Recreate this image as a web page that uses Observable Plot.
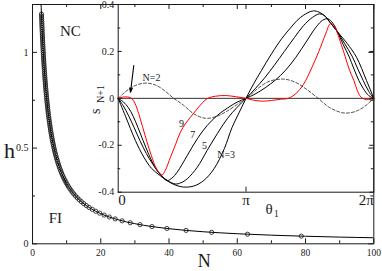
<!DOCTYPE html>
<html><head><meta charset="utf-8">
<script src="https://cdn.jsdelivr.net/npm/d3@7"></script>
<script src="https://cdn.jsdelivr.net/npm/@observablehq/plot@0.6"></script>
<style>
html,body{margin:0;padding:0;background:#fff;}
#chart{position:relative;width:382px;height:271px;overflow:hidden;background:#fff;}
#chart svg{position:absolute;}
</style></head><body><div id="chart"></div>
<script>
// ---------- main chart data: h versus N ----------
const mainXMajor = [0, 20, 40, 60, 80, 100];
const mainXMinor = [10, 30, 50, 70, 90];
const mainYMajor = [0, 0.5, 1];
const mainYMinor = [0.25, 0.75];

const hCircles = [0.04,0.05,0.06,0.07,0.08,0.09,0.10,0.11,0.12,0.13,
  0.14,0.15,0.16,0.17,0.18,0.19,0.20,0.21,0.22,0.23,
  0.24,0.25,0.26,0.27,0.28,0.29,0.30,0.31,0.32,0.33,
  0.34,0.35,0.36,0.37,0.38,0.39,0.40,0.41,0.42,0.43,
  0.44,0.45,0.46,0.47,0.48,0.49,0.50,0.51,0.52,0.53,
  0.54,0.55,0.56,0.57,0.58,0.59,0.60,0.61,0.62,0.63,
  0.64,0.65,0.66,0.67,0.68,0.69,0.70,0.71,0.72,0.73,
  0.74,0.75,0.76,0.77,0.78,0.79,0.80,0.81,0.82,0.83,
  0.84,0.85,0.86,0.87,0.88,0.89,0.90,0.91,0.92,0.93,
  0.94,0.95,0.96,0.97,0.98,0.99,1.00,1.01,1.02,1.03,
  1.04,1.05,1.06,1.07,1.08,1.09,1.10,1.11,1.12,1.13,
  1.14,1.15,1.16,1.17,1.18,1.19,1.20];
const nCircles = [78.75,63.00,52.50,45.00,39.38,35.00,31.50,28.64,26.25,24.23,
  22.50,21.00,19.69,18.53,17.50,16.58,15.75,15.00,14.32,13.70,
  13.13,12.60,12.12,11.67,11.25,10.86,10.50,10.16,9.84,9.55,
  9.26,9.00,8.75,8.51,8.29,8.08,7.88,7.68,7.50,7.33,
  7.16,7.00,6.85,6.70,6.56,6.43,6.30,6.18,6.06,5.94,
  5.83,5.73,5.63,5.53,5.43,5.34,5.25,5.16,5.08,5.00,
  4.92,4.85,4.77,4.70,4.63,4.57,4.50,4.44,4.38,4.32,
  4.26,4.20,4.14,4.09,4.04,3.99,3.94,3.89,3.84,3.80,
  3.75,3.71,3.66,3.62,3.58,3.54,3.50,3.46,3.42,3.39,
  3.35,3.32,3.28,3.25,3.21,3.18,3.15,3.12,3.09,3.06,
  3.03,3.00,2.97,2.94,2.92,2.89,2.86,2.84,2.81,2.79,
  2.76,2.74,2.72,2.69,2.67,2.65,2.63];

const lineN = [2.45,2.55,2.63,2.8,3,3.25,3.5,4,4.5,5,6,7,8,9,10,12,14,17,20,25,30,35,40,50,60,70,80,90,100];
const lineH = [1.286,1.235,1.198,1.125,1.05,0.969,0.9,0.7875,0.7,0.63,0.525,0.45,0.394,0.35,0.315,0.2625,0.225,0.185,0.1575,0.126,0.105,0.09,0.0788,0.063,0.0525,0.045,0.0394,0.035,0.0315];

const regionText = ["NC", "FI"];
const regionN = [11.1, 6.7];
const regionH = [1.11, 0.132];

// ---------- inset data: s_{N+1} versus theta_1 (theta in units of pi) ----------
const insetXTicks = [0, 1, 2];
const insetXTickLabels = ["0", "π", "2π"];
const insetYMajor = [-0.4, -0.2, 0, 0.2, 0.4];
const insetYMinor = [-0.3, -0.1, 0.1, 0.3];

const theta2 = [0,0.05,0.1,0.16,0.227,0.29,0.35,0.435,0.513,0.592,0.683,0.775,0.879,0.957,1.0,1.05,1.1,1.18,1.29,1.38,1.47,1.565,1.65,1.73,1.78,1.85,1.92,1.96,2.0];
const s2 = [0,0.025,0.045,0.06,0.065,0.057,0.038,0,-0.03,-0.066,-0.085,-0.076,-0.045,-0.016,0,0.022,0.045,0.072,0.082,0.07,0.04,0,-0.038,-0.058,-0.063,-0.057,-0.038,-0.02,0];

const theta3 = [0,0.057,0.135,0.2,0.26,0.33,0.4,0.46,0.51,0.59,0.67,0.75,0.83,0.89,0.945,1.0,1.06,1.12,1.2,1.28,1.348,1.4,1.452,1.518,1.56,1.609,1.66,1.714,1.79,1.865,1.943,2.0];
const s3 = [0,-0.076,-0.18,-0.25,-0.298,-0.33,-0.357,-0.372,-0.378,-0.374,-0.35,-0.3,-0.215,-0.125,-0.062,0,0.062,0.118,0.19,0.255,0.3,0.332,0.355,0.372,0.37,0.355,0.322,0.285,0.235,0.175,0.076,0];

const theta5 = [0,0.04,0.083,0.125,0.17,0.22,0.27,0.33,0.39,0.448,0.49,0.54,0.618,0.696,0.775,0.853,0.931,1.0,1.07,1.15,1.22,1.3,1.38,1.45,1.52,1.575,1.62,1.66,1.714,1.77,1.83,1.875,1.917,1.96,2.0];
const s5 = [0,-0.032,-0.076,-0.125,-0.18,-0.235,-0.28,-0.325,-0.352,-0.365,-0.36,-0.343,-0.294,-0.222,-0.151,-0.087,-0.038,0,0.04,0.09,0.14,0.2,0.26,0.31,0.345,0.36,0.35,0.322,0.285,0.235,0.18,0.125,0.076,0.03,0];

const theta7 = [0,0.04,0.08,0.117,0.155,0.195,0.24,0.29,0.33,0.383,0.42,0.461,0.54,0.618,0.696,0.775,0.853,0.931,1.0,1.07,1.15,1.23,1.31,1.39,1.47,1.55,1.6,1.64,1.68,1.714,1.76,1.805,1.845,1.883,1.92,1.96,2.0];
const s7 = [0,-0.015,-0.04,-0.076,-0.125,-0.18,-0.24,-0.295,-0.325,-0.35,-0.34,-0.315,-0.244,-0.173,-0.116,-0.073,-0.042,-0.016,0,0.018,0.045,0.078,0.12,0.175,0.24,0.305,0.333,0.339,0.32,0.285,0.23,0.18,0.125,0.076,0.04,0.012,0];

const theta9 = [0,0.03,0.07,0.1,0.13,0.16,0.19,0.225,0.26,0.3,0.344,0.37,0.409,0.45,0.487,0.53,0.566,0.61,0.66,0.7,0.76,0.84,0.92,1.0,1.06,1.13,1.2,1.27,1.33,1.39,1.45,1.51,1.57,1.62,1.661,1.69,1.714,1.745,1.775,1.81,1.844,1.87,1.898,1.93,1.96,2.0];
const s9 = [0,0.005,0.006,0.002,-0.02,-0.065,-0.12,-0.185,-0.245,-0.3,-0.326,-0.305,-0.251,-0.195,-0.144,-0.105,-0.08,-0.05,-0.018,0,0.009,0.012,0.007,0,-0.008,-0.012,-0.009,-0.004,0,0.02,0.06,0.125,0.2,0.27,0.318,0.31,0.28,0.23,0.18,0.12,0.076,0.035,0.006,-0.004,-0.006,0];

const curveLabelText = ["N=2", "9", "7", "5", "N=3"];
const curveLabelTheta = [0.261, 0.495, 0.584, 0.675, 0.845];
const curveLabelS = [0.089, -0.107, -0.156, -0.201, -0.242];

const arrowTheta = [0.122, 0.096];
const arrowS = [0.140, 0.026];

// ---------- helpers ----------
const rows = (xs, ys) => xs.map((x, i) => ({x, y: ys[i]}));
const FONT = "'Liberation Serif', 'Times New Roman', serif";
const ink = "#1a1a1a";
const id = d => d;

// ---------- main plot ----------
const W = 382, H = 271, mL = 32, mR = 8.7, mT = 4, mB = 27.7;
const fW = W - mL - mR, fH = H - mT - mB;

const main = Plot.plot({
  width: W, height: H,
  marginLeft: mL, marginRight: mR, marginTop: mT, marginBottom: mB,
  x: {domain: [0, 100]},
  y: {domain: [0, 1.25]},
  style: {background: "transparent", fontFamily: FONT, fontSize: "10px", color: ink, overflow: "visible"},
  marks: [
    Plot.frame({stroke: ink}),
    Plot.tickX(mainXMajor, {x: id, insetTop: fH - 5, stroke: ink}),
    Plot.tickX(mainXMajor, {x: id, insetBottom: fH - 5, stroke: ink}),
    Plot.tickX(mainXMinor, {x: id, insetTop: fH - 3, stroke: ink}),
    Plot.tickX(mainXMinor, {x: id, insetBottom: fH - 3, stroke: ink}),
    Plot.tickY(mainYMajor, {y: id, insetRight: fW - 5, stroke: ink}),
    Plot.tickY(mainYMajor, {y: id, insetLeft: fW - 5, stroke: ink}),
    Plot.tickY(mainYMinor, {y: id, insetRight: fW - 3, stroke: ink}),
    Plot.tickY(mainYMinor, {y: id, insetLeft: fW - 3, stroke: ink}),
    Plot.axisX(mainXMajor, {tickSize: 0, tickPadding: 5, tickFormat: d => String(d), fontSize: 9.5, label: null}),
    Plot.axisY(mainYMajor, {tickSize: 0, tickPadding: 4, tickFormat: d => String(d), fontSize: 10, label: null}),
    Plot.line(rows(lineN, lineH), {x: "x", y: "y", curve: "monotone-x", stroke: "#000", strokeWidth: 1, clip: true}),
    Plot.dot(rows(nCircles, hCircles), {x: "x", y: "y", r: 2.1, stroke: "#111", strokeWidth: 0.8}),
    Plot.text(regionText.map((t, i) => ({t, x: regionN[i], y: regionH[i]})), {x: "x", y: "y", text: "t", fontSize: 15, textAnchor: "middle", lineAnchor: "middle"}),
    Plot.text(["h"], {text: id, frameAnchor: "left", dx: -23, dy: 27, fontSize: 22, textAnchor: "middle", lineAnchor: "middle"}),
    Plot.text(["N"], {text: id, frameAnchor: "bottom", dx: 1, dy: 17.5, fontSize: 18, textAnchor: "middle", lineAnchor: "middle"})
  ]
});

// ---------- inset plot ----------
const iW = 294, iH = 220, iL = 29.7, iR = 8.7, iT = 4, iB = 28.3;
const ifW = iW - iL - iR, ifH = iH - iT - iB;

const inset = Plot.plot({
  width: iW, height: iH,
  marginLeft: iL, marginRight: iR, marginTop: iT, marginBottom: iB,
  x: {domain: [0, 2], axis: null},
  y: {domain: [-0.4, 0.4]},
  style: {background: "transparent", fontFamily: FONT, fontSize: "10px", color: ink, overflow: "hidden"},
  marks: [
    Plot.frame({fill: "white", stroke: ink}),
    Plot.ruleY([0], {stroke: "#333", strokeWidth: 1}),
    Plot.line(rows(theta2, s2), {x: "x", y: "y", curve: "catmull-rom", stroke: "#222", strokeWidth: 0.8, strokeDasharray: "3,2"}),
    Plot.line(rows(theta3, s3), {x: "x", y: "y", curve: "catmull-rom", stroke: "#000", strokeWidth: 1}),
    Plot.line(rows(theta5, s5), {x: "x", y: "y", curve: "catmull-rom", stroke: "#000", strokeWidth: 1}),
    Plot.line(rows(theta7, s7), {x: "x", y: "y", curve: "catmull-rom", stroke: "#000", strokeWidth: 1}),
    Plot.line(rows(theta9, s9), {x: "x", y: "y", curve: "catmull-rom", stroke: "#ff0000", strokeWidth: 1}),
    Plot.tickY(insetYMajor, {y: id, insetRight: ifW - 4, stroke: ink}),
    Plot.tickY(insetYMajor, {y: id, insetLeft: ifW - 4, stroke: ink}),
    Plot.tickY(insetYMinor, {y: id, insetRight: ifW - 2.5, stroke: ink}),
    Plot.tickY(insetYMinor, {y: id, insetLeft: ifW - 2.5, stroke: ink}),
    Plot.tickX([insetXTicks[1]], {x: id, insetTop: ifH - 5, stroke: ink}),
    Plot.tickX([insetXTicks[1]], {x: id, insetBottom: ifH - 5, stroke: ink}),
    Plot.axisY(insetYMajor, {tickSize: 0, tickPadding: 4, tickFormat: d => String(d), fontSize: 10, label: null}),
    Plot.text([0], {x: () => insetXTicks[0], text: () => insetXTickLabels[0], frameAnchor: "bottom", textAnchor: "start", lineAnchor: "top", dy: 2, fontSize: 15}),
    Plot.text([0], {x: () => insetXTicks[1], text: () => insetXTickLabels[1], frameAnchor: "bottom", textAnchor: "middle", lineAnchor: "top", dy: 2, fontSize: 15}),
    Plot.text([0], {x: () => insetXTicks[2], text: () => insetXTickLabels[2], frameAnchor: "bottom", textAnchor: "end", lineAnchor: "top", dy: 2, fontSize: 15}),
    Plot.text(["θ"], {text: id, frameAnchor: "bottom-left", dx: 147.3, dy: 17, fontSize: 15, textAnchor: "start", lineAnchor: "middle"}),
    Plot.text(["1"], {text: id, frameAnchor: "bottom-left", dx: 155.8, dy: 22, fontSize: 9.5, textAnchor: "start", lineAnchor: "middle"}),
    Plot.text(["s"], {text: id, frameAnchor: "left", dx: -22.2, dy: 15.6, rotate: -90, fontSize: 14, textAnchor: "start", lineAnchor: "middle"}),
    Plot.text(["N+1"], {text: id, frameAnchor: "left", dx: -17.9, dy: 4.6, rotate: -90, fontSize: 10, textAnchor: "start", lineAnchor: "middle"}),
    Plot.text(curveLabelText.map((t, i) => ({t, x: curveLabelTheta[i], y: curveLabelS[i]})), {x: "x", y: "y", text: "t", fontSize: 10, textAnchor: "middle", lineAnchor: "middle"}),
    Plot.arrow([{x1: arrowTheta[0], y1: arrowS[0], x2: arrowTheta[1], y2: arrowS[1]}], {x1: "x1", y1: "y1", x2: "x2", y2: "y2", stroke: "#000", strokeWidth: 1.1, headLength: 6, headAngle: 35})
  ]
});

const chart = document.getElementById("chart");
inset.style.left = "88px"; inset.style.top = "0px"; inset.style.zIndex = "1";
main.style.left = "0px"; main.style.top = "0px"; main.style.zIndex = "2";
chart.append(inset, main);
</script>
</body></html>
